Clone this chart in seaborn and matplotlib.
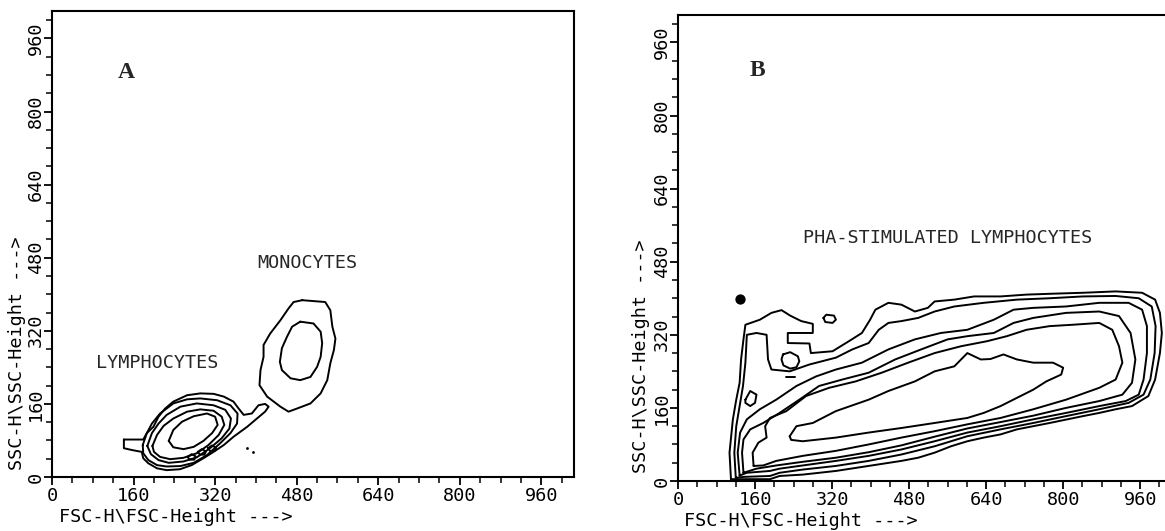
import numpy as np
import pandas as pd
import matplotlib
matplotlib.use("Agg")
import matplotlib.pyplot as plt
import seaborn as sns

# ---------------- data (FSC-H, SSC-H channel units) ----------------
ticks = [0, 160, 320, 480, 640, 800, 960]
tick_labels = ["0", "160", "320", "480", "640", "800", "960"]

# Panel A contours
a_lymph_outer_x = [141, 141, 157, 176, 179, 189, 206, 225, 251, 274, 297, 317, 337, 356, 383, 402, 418, 425, 418, 405, 392, 376, 366, 356, 337, 317, 291, 265, 238, 222, 209, 199, 186, 179]
a_lymph_outer_y = [82, 63, 59, 55, 41, 30, 19, 15, 17, 26, 41, 55, 70, 88, 110, 128, 143, 154, 160, 157, 139, 136, 150, 165, 176, 182, 183, 179, 165, 150, 132, 110, 96, 82]
a_lymph_2_x = [178, 186, 196, 212, 238, 265, 291, 324, 350, 364, 363, 350, 330, 304, 278, 252, 225, 206, 189, 179]
a_lymph_2_y = [70, 96, 117, 139, 161, 170, 172, 168, 157, 139, 117, 96, 74, 48, 31, 24, 23, 26, 37, 52]
a_lymph_3_x = [187, 196, 209, 225, 252, 284, 317, 340, 351, 348, 333, 310, 284, 258, 229, 209, 194]
a_lymph_3_y = [68, 96, 117, 136, 154, 161, 157, 147, 128, 106, 85, 63, 43, 34, 31, 37, 50]
a_lymph_4_x = [197, 206, 219, 238, 265, 291, 317, 333, 338, 327, 307, 284, 258, 232, 212, 200]
a_lymph_4_y = [68, 92, 112, 128, 143, 148, 145, 132, 114, 92, 70, 52, 42, 39, 44, 55]
a_lymph_5_x = [229, 238, 255, 278, 304, 320, 325, 314, 297, 278, 258, 238]
a_lymph_5_y = [79, 103, 121, 133, 139, 132, 114, 96, 79, 66, 61, 65]
a_loop1_x = [266, 274, 282, 279, 270]
a_loop1_y = [44, 50, 45, 38, 38]
a_loop2_x = [286, 294, 302, 299, 290]
a_loop2_y = [55, 61, 56, 49, 49]
a_loop3_x = [306, 314, 322, 319, 310]
a_loop3_y = [63, 69, 64, 57, 57]
a_mono_outer_x = [491, 536, 546, 550, 556, 553, 546, 540, 527, 507, 481, 464, 448, 422, 407, 409, 415, 415, 428, 448, 464, 474]
a_mono_outer_y = [387, 383, 365, 329, 303, 278, 249, 212, 183, 161, 150, 143, 154, 176, 201, 234, 263, 289, 314, 343, 369, 383]
a_mono_inner_x = [487, 513, 527, 530, 527, 520, 507, 487, 468, 451, 447, 451, 461, 471]
a_mono_inner_y = [340, 336, 318, 293, 263, 241, 219, 212, 216, 234, 252, 282, 307, 329]
a_dots_x = [383, 395]
a_dots_y = [63, 55]

# Panel B contours
b_c1_x = [110, 107, 114, 121, 128, 131, 136, 140, 170, 194, 215, 233, 256, 280, 280, 228, 228, 273, 276, 321, 355, 382, 399, 410, 437, 464, 492, 519, 533, 574, 615, 670, 724, 779, 841, 909, 964, 991, 1001, 1005, 1001, 991, 977, 943, 909, 875, 841, 772, 738, 704, 670, 635, 601, 567, 533, 499, 464, 396, 328, 259, 211, 191]
b_c1_y = [4, 62, 135, 178, 215, 266, 310, 342, 353, 368, 374, 362, 350, 344, 324, 324, 302, 301, 280, 284, 306, 324, 353, 375, 390, 386, 371, 379, 393, 397, 404, 404, 408, 410, 412, 415, 412, 397, 368, 324, 280, 222, 186, 164, 157, 149, 142, 127, 120, 113, 102, 95, 87, 76, 62, 51, 44, 33, 22, 14, 11, 4]
b_c2_x = [120, 117, 121, 128, 135, 140, 143, 163, 184, 187, 194, 232, 273, 328, 362, 396, 417, 437, 464, 499, 533, 574, 635, 704, 772, 841, 909, 957, 984, 992, 990, 981, 967, 936, 875, 806, 738, 670, 601, 533, 464, 396, 328, 259, 211, 191, 136]
b_c2_y = [7, 62, 120, 164, 208, 259, 320, 324, 320, 266, 244, 240, 255, 270, 288, 302, 331, 346, 350, 357, 371, 382, 390, 397, 400, 404, 405, 400, 382, 339, 280, 222, 189, 171, 157, 142, 127, 113, 98, 76, 58, 44, 33, 25, 18, 11, 9]
b_c3_x = [128, 124, 129, 143, 170, 204, 246, 287, 328, 382, 437, 492, 546, 601, 656, 697, 738, 806, 875, 936, 964, 974, 974, 967, 957, 930, 875, 806, 738, 670, 601, 533, 464, 396, 328, 259, 211, 191, 143]
b_c3_y = [12, 62, 106, 135, 157, 178, 208, 229, 244, 259, 288, 310, 324, 331, 353, 375, 379, 382, 390, 390, 375, 339, 280, 222, 189, 175, 164, 149, 135, 120, 106, 87, 69, 55, 44, 34, 27, 22, 18]
b_c4_x = [136, 133, 136, 150, 177, 211, 252, 293, 341, 396, 451, 505, 560, 601, 656, 697, 738, 806, 875, 916, 940, 950, 943, 923, 875, 806, 738, 670, 601, 533, 464, 396, 328, 259, 204, 163]
b_c4_y = [18, 62, 91, 113, 127, 149, 178, 208, 222, 237, 266, 288, 310, 317, 324, 346, 357, 368, 371, 361, 324, 266, 215, 189, 175, 160, 143, 129, 115, 97, 78, 63, 51, 42, 34, 27]
b_c5_x = [157, 155, 167, 184, 181, 191, 225, 266, 314, 369, 423, 478, 533, 588, 642, 683, 724, 772, 820, 875, 902, 916, 923, 909, 875, 806, 738, 670, 601, 533, 464, 396, 328, 259, 204, 177]
b_c5_y = [33, 62, 84, 95, 120, 138, 153, 186, 204, 218, 237, 259, 280, 295, 306, 317, 331, 339, 342, 346, 331, 295, 259, 222, 204, 178, 157, 138, 124, 109, 95, 80, 66, 55, 44, 34]
b_c6_x = [232, 246, 280, 328, 396, 437, 492, 533, 574, 601, 629, 649, 676, 704, 738, 779, 800, 796, 765, 738, 704, 670, 635, 601, 533, 464, 396, 328, 259, 235]
b_c6_y = [98, 120, 127, 153, 178, 197, 218, 240, 251, 280, 266, 267, 277, 266, 259, 259, 248, 233, 218, 200, 182, 164, 149, 138, 127, 116, 106, 95, 87, 90]
b_island1_x = [140, 150, 163, 160, 150, 140]
b_island1_y = [178, 197, 189, 171, 164, 171]
b_island2_x = [218, 233, 249, 252, 246, 233, 219, 215]
b_island2_y = [277, 282, 273, 262, 249, 246, 253, 266]
b_island3_x = [302, 308, 324, 328, 321, 306]
b_island3_y = [357, 364, 362, 353, 346, 348]
b_dash_x = [225, 242]
b_dash_y = [228, 228]
b_blob_x = [128]
b_blob_y = [398]


def closed(name, xs, ys, close=True):
    xs = list(xs)
    ys = list(ys)
    if close:
        xs = xs + [xs[0]]
        ys = ys + [ys[0]]
    return pd.DataFrame({"x": xs, "y": ys, "cid": name})


df_a = pd.concat([
    closed("lo", a_lymph_outer_x, a_lymph_outer_y),
    closed("l2", a_lymph_2_x, a_lymph_2_y),
    closed("l3", a_lymph_3_x, a_lymph_3_y),
    closed("l4", a_lymph_4_x, a_lymph_4_y),
    closed("l5", a_lymph_5_x, a_lymph_5_y),
    closed("p1", a_loop1_x, a_loop1_y),
    closed("p2", a_loop2_x, a_loop2_y),
    closed("p3", a_loop3_x, a_loop3_y),
    closed("mo", a_mono_outer_x, a_mono_outer_y),
    closed("mi", a_mono_inner_x, a_mono_inner_y),
], ignore_index=True)

df_b = pd.concat([
    closed("c1", b_c1_x, b_c1_y),
    closed("c2", b_c2_x, b_c2_y),
    closed("c3", b_c3_x, b_c3_y),
    closed("c4", b_c4_x, b_c4_y),
    closed("c5", b_c5_x, b_c5_y),
    closed("c6", b_c6_x, b_c6_y),
    closed("i1", b_island1_x, b_island1_y),
    closed("i2", b_island2_x, b_island2_y),
    closed("i3", b_island3_x, b_island3_y),
    closed("d1", b_dash_x, b_dash_y, close=False),
], ignore_index=True)

# ---------------- styling ----------------
sns.set_theme(style="ticks")
plt.rcParams["font.family"] = ["DejaVu Sans Mono", "DejaVu Sans"]
mono = 13.3

fig = plt.figure(figsize=(11.65, 5.31), dpi=100)
W, H = 1165, 531
axA = fig.add_axes([52 / W, (H - 477) / H, 522 / W, 466 / H])
axB = fig.add_axes([678 / W, (H - 481) / H, 493 / W, 466 / H])

label_pos = {
    "A": dict(xl=(0.0134, -0.066), yl=(-0.050, 0.015)),
    "B": dict(xl=(0.012, -0.066), yl=(-0.056, 0.017)),
}

for key, ax, df in (("A", axA, df_a), ("B", axB, df_b)):
    sns.lineplot(data=df, x="x", y="y", units="cid", estimator=None, sort=False,
                 color="black", lw=1.4, ax=ax, legend=False)
    ax.set_xlim(0, 1024)
    ax.set_ylim(0, 1020)
    ax.set_xticks(ticks)
    ax.set_xticklabels(tick_labels, fontsize=mono)
    ax.set_yticks(ticks)
    ax.set_yticklabels(tick_labels, fontsize=mono, rotation=90, va="center")
    ax.set_xticks(np.arange(0, 1024, 40), minor=True)
    ax.set_yticks(np.arange(0, 1020, 40), minor=True)
    ax.tick_params(which="major", direction="out", length=6, width=1.3, colors="black")
    ax.tick_params(which="minor", direction="out", length=4, width=1.1, colors="black")
    ax.tick_params(axis="x", which="major", pad=1)
    ax.tick_params(axis="y", which="major", pad=-1)
    for sp in ax.spines.values():
        sp.set_color("black")
        sp.set_linewidth(1.5)
    ax.set_xlabel("FSC-H\\FSC-Height --->", fontsize=mono, loc="left", color="black")
    ax.set_ylabel("SSC-H\\SSC-Height --->", fontsize=mono, loc="bottom", color="black")
    ax.xaxis.set_label_coords(*label_pos[key]["xl"])
    ax.yaxis.set_label_coords(*label_pos[key]["yl"])
    ax.set_facecolor("white")

sns.scatterplot(x=a_dots_x, y=a_dots_y, ax=axA, color="black", s=4, linewidth=0)
sns.scatterplot(x=b_blob_x, y=b_blob_y, ax=axB, color="black", s=55, marker="o", linewidth=0)

serif = ["Liberation Serif", "DejaVu Serif"]
axA.text(145, 886, "A", fontsize=17, fontweight="bold", family=serif, ha="center", va="center")
axB.text(164, 898, "B", fontsize=17, fontweight="bold", family=serif, ha="center", va="center")
axA.text(501, 468, "MONOCYTES", fontsize=mono, ha="center", va="center")
axA.text(206, 249, "LYMPHOCYTES", fontsize=mono, ha="center", va="center")
axB.text(559, 531, "PHA-STIMULATED LYMPHOCYTES", fontsize=mono, ha="center", va="center")

fig.savefig("out.png", dpi=100, facecolor="white")
